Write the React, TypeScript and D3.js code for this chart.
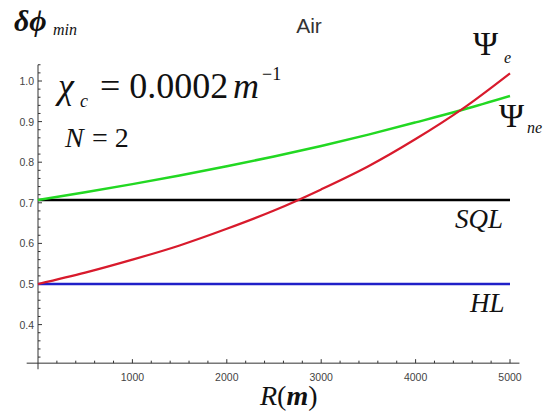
import React from "react";
import * as d3 from "d3";

// values
const radius = [0, 500, 1000, 1500, 2000, 2500, 3000, 3500, 4000, 4500, 5000];
const psiE = [0.5, 0.528, 0.56, 0.595, 0.636, 0.681, 0.733, 0.79, 0.857, 0.932, 1.019];
const psiNe = [0.707, 0.726, 0.746, 0.767, 0.79, 0.814, 0.84, 0.868, 0.898, 0.929, 0.963];
const sqlLevel = 0.707;
const hlLevel = 0.5;
const xTicks = [1000, 2000, 3000, 4000, 5000];
const yTicks = [0.4, 0.5, 0.6, 0.7, 0.8, 0.9, 1.0];

const serif = "'Liberation Serif', 'Times New Roman', serif";
const sans = "'Liberation Sans', Arial, sans-serif";

export default function App() {
  const x = d3.scaleLinear().domain([0, 5000]).range([38, 510]);
  const y = d3.scaleLinear().domain([0.5, 1.0]).range([284, 81]);

  const line = d3
    .line<[number, number]>()
    .x((d) => x(d[0]))
    .y((d) => y(d[1]))
    .curve(d3.curveMonotoneX);

  const redPts = radius.map((r, i) => [r, psiE[i]] as [number, number]);
  const greenPts = radius.map((r, i) => [r, psiNe[i]] as [number, number]);

  const axisY = y(0.305);
  const axisX = x(0);

  const xMinor = d3.range(200, 5001, 200).filter((v) => v % 1000 !== 0);
  const yMinor = d3.range(32, 105, 2).map((v) => v / 100).filter((v) => Math.round(v * 100) % 10 !== 0);

  return (
    <svg
      width={552}
      height={417}
      style={{ position: "absolute", left: 0, top: 0, background: "#fff" }}
    >
      {/* axes */}
      <g stroke="#333" strokeWidth={1} fill="none">
        <line x1={x(-120)} x2={x(5100)} y1={axisY} y2={axisY} />
        <line x1={axisX} x2={axisX} y1={y(0.29)} y2={y(1.04)} />
        {xTicks.map((t) => (
          <line key={"xt" + t} x1={x(t)} x2={x(t)} y1={axisY} y2={axisY - 4} />
        ))}
        {xMinor.map((t) => (
          <line key={"xm" + t} x1={x(t)} x2={x(t)} y1={axisY} y2={axisY - 2.5} />
        ))}
        {yTicks.map((t) => (
          <line key={"yt" + t} x1={axisX} x2={axisX + 4} y1={y(t)} y2={y(t)} />
        ))}
        {yMinor.map((t) => (
          <line key={"ym" + t} x1={axisX} x2={axisX + 2.5} y1={y(t)} y2={y(t)} />
        ))}
      </g>
      <g fontFamily={sans} fontSize={10.5} fill="#444">
        {xTicks.map((t) => (
          <text key={"xl" + t} x={x(t)} y={axisY + 18} textAnchor="middle">
            {t}
          </text>
        ))}
        {yTicks.map((t) => (
          <text key={"yl" + t} x={axisX - 4} y={y(t) + 4} textAnchor="end">
            {t.toFixed(1)}
          </text>
        ))}
      </g>

      {/* curves */}
      <line x1={x(0)} x2={x(5000)} y1={y(sqlLevel)} y2={y(sqlLevel)} stroke="#000" strokeWidth={2.5} />
      <line x1={x(0)} x2={x(5000)} y1={y(hlLevel)} y2={y(hlLevel)} stroke="#2020c8" strokeWidth={2.5} />
      <path d={line(greenPts) ?? ""} fill="none" stroke="#22d822" strokeWidth={2.5} />
      <path d={line(redPts) ?? ""} fill="none" stroke="#d81a2c" strokeWidth={2.2} />

      {/* labels */}
      <text x={309} y={33} fontFamily={sans} fontSize={21} fill="#333" textAnchor="middle">
        Air
      </text>
      <text x={14} y={31} fontFamily={serif} fontStyle="italic" fontWeight="bold" fontSize={30} fill="#111">
        δϕ
      </text>
      <text x={53} y={35} fontFamily={serif} fontStyle="italic" fontSize={16} fill="#111">
        min
      </text>

      <g fontFamily={serif} fill="#111">
        <text x={58} y={98} fontStyle="italic" fontSize={36}>χ</text>
        <text x={80} y={107} fontStyle="italic" fontSize={18}>c</text>
        <text x={100} y={98} fontSize={36}>= 0.0002</text>
        <text x={233} y={98} fontStyle="italic" fontSize={36}>m</text>
        <text x={262} y={80} fontSize={18}>−1</text>

        <text x={65} y={147} fontStyle="italic" fontSize={28}>N</text>
        <text x={92} y={147} fontSize={28}>= 2</text>

        <text x={473} y={55} fontSize={34}>Ψ</text>
        <text x={504} y={63} fontStyle="italic" fontSize={16}>e</text>
        <text x={499} y={127} fontSize={34}>Ψ</text>
        <text x={527} y={133} fontStyle="italic" fontSize={16}>ne</text>

        <text x={455} y={228} fontStyle="italic" fontSize={27}>SQL</text>
        <text x={470} y={312} fontStyle="italic" fontSize={27}>HL</text>

        <text x={260} y={405} fontSize={28}>
          <tspan fontStyle="italic">R</tspan>
          <tspan>(</tspan>
          <tspan fontStyle="italic" fontWeight="bold">m</tspan>
          <tspan>)</tspan>
        </text>
      </g>
    </svg>
  );
}
